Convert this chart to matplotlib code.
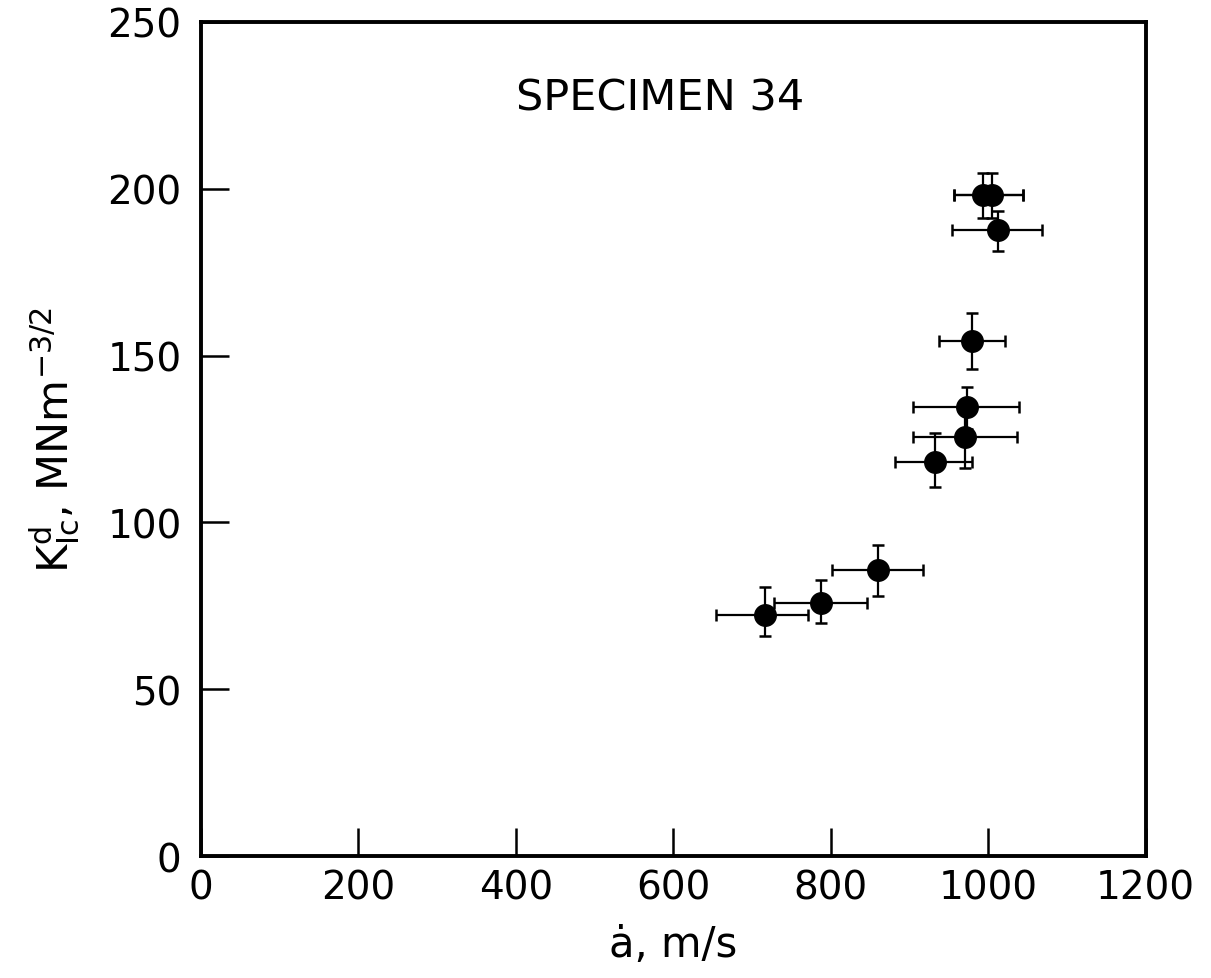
# Specimen 34: dynamic fracture toughness vs crack velocity
import numpy as np
import matplotlib.pyplot as plt

plt.rcParams['font.family'] = ['DejaVu Sans']
plt.rcParams['mathtext.fontset'] = 'dejavusans'

# crack speed (m/s) and K_Ic^d (MN m^-3/2)
speed = [717, 787, 860, 933, 970, 973, 979, 1012, 993, 1005]
k_id = [72.2, 75.8, 85.7, 118.0, 125.6, 134.6, 154.4, 187.6, 198.2, 198.2]
speed_lo = [654, 728, 801, 882, 904, 904, 938, 954, 956, 956]
speed_hi = [771, 846, 917, 980, 1037, 1039, 1021, 1069, 1044, 1044]
k_lo = [66.0, 69.8, 78.0, 110.6, 116.3, 128.0, 146.0, 181.4, 191.3, 191.3]
k_hi = [80.6, 82.7, 93.2, 126.8, 133.0, 140.6, 162.8, 193.3, 204.7, 204.7]

x = np.array(speed)
y = np.array(k_id)
xerr = [x - np.array(speed_lo), np.array(speed_hi) - x]
yerr = [y - np.array(k_lo), np.array(k_hi) - y]

fig = plt.figure(figsize=(12.11, 9.79), dpi=100)
ax = fig.add_axes([0.166, 0.1246, 0.78, 0.852])

ax.errorbar(x, y, xerr=xerr, yerr=yerr, fmt='o', color='black',
            markersize=15.5, elinewidth=1.6, capsize=4.5, capthick=1.8)

ax.set_xlim(0, 1200)
ax.set_ylim(0, 250)
ax.set_xticks([0, 200, 400, 600, 800, 1000, 1200])
ax.set_yticks([0, 50, 100, 150, 200, 250])

for side in ['left', 'bottom', 'right', 'top']:
    ax.spines[side].set_linewidth(2.8)

ax.tick_params(axis='both', direction='in', length=20, width=1.8,
               labelsize=28, top=False, right=False)
ax.tick_params(axis='x', pad=9)
ax.tick_params(axis='y', pad=14)

ax.set_xlabel('ȧ, m/s', fontsize=30, labelpad=12)
ax.set_ylabel(r'K$_{\mathrm{Ic}}^{\mathrm{d}}$, MNm$^{-3/2}$', fontsize=31, labelpad=18)

ax.text(0.486, 0.909, 'SPECIMEN 34', transform=ax.transAxes,
        ha='center', va='center', fontsize=31)

plt.savefig('out.png', dpi=100)
